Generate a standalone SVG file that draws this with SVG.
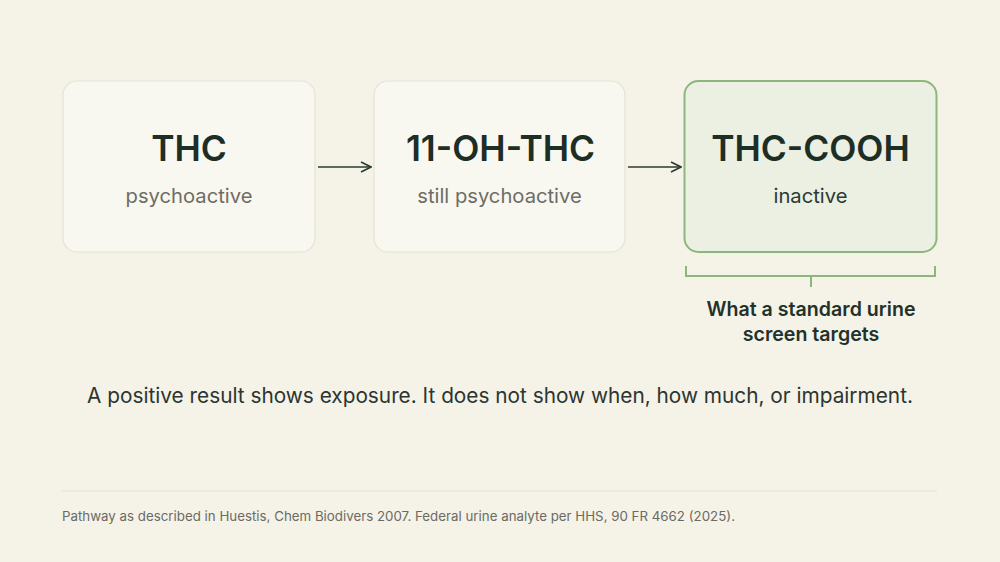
<svg xmlns="http://www.w3.org/2000/svg" width="1000" height="562" viewBox="0 0 1000 562">
<defs>
<style>
.box{fill:#f9f8f0;stroke:#e6e2d5;stroke-width:1.2}
.hl{fill:#ecf0e2;stroke:#8db67c;stroke-width:2}
.t{font-family:Inter,"Liberation Sans",sans-serif;font-weight:600;font-size:35.3px;fill:#1d2e26;text-anchor:middle}
.s{font-family:Inter,"Liberation Sans",sans-serif;font-size:20.2px;fill:#6d6d66;text-anchor:middle}
.sd{fill:#2b3a32}
.conn{stroke:#2b3a32;stroke-width:1.6;fill:none}
.br{stroke:#8db67c;stroke-width:2;fill:none}
</style>
<marker id="arr" viewBox="0 0 12 12" refX="11" refY="6" markerWidth="12" markerHeight="12" markerUnits="userSpaceOnUse" orient="auto">
<path d="M1,1 L11,6 L1,11" fill="none" stroke="#2b3a32" stroke-width="1.6"/>
</marker>
</defs>
<rect width="1000" height="562" fill="#f5f2e8"/>
<g id="node-thc">
<rect class="box" x="63" y="81" width="252" height="171" rx="14"/>
<text class="t" x="189" y="161">THC</text>
<text class="s" x="189" y="203">psychoactive</text>
</g>
<g id="node-11oh">
<rect class="box" x="374" y="81" width="251" height="171" rx="14"/>
<text class="t" x="500.5" y="161">11-OH-THC</text>
<text class="s" x="499.5" y="203">still psychoactive</text>
</g>
<g id="node-cooh">
<rect class="hl" x="684.5" y="81" width="252" height="171" rx="14"/>
<text class="t" x="810.5" y="161">THC-COOH</text>
<text class="s sd" x="810.5" y="203">inactive</text>
</g>
<g id="connectors">
<line class="conn" x1="318" y1="167" x2="371" y2="167" marker-end="url(#arr)"/>
<line class="conn" x1="628" y1="167" x2="681" y2="167" marker-end="url(#arr)"/>
</g>
<g id="bracket">
<path class="br" d="M686,266 V276 H935 V266 M811,276 V287"/>
<text font-family="Inter,'Liberation Sans',sans-serif" font-weight="600" font-size="19.6" fill="#233229" text-anchor="middle"><tspan x="811" y="316">What a standard urine</tspan><tspan x="811" y="341">screen targets</tspan></text>
</g>
<text x="500" y="403" font-family="Inter,'Liberation Sans',sans-serif" font-size="20.8" fill="#2c3530" text-anchor="middle">A positive result shows exposure. It does not show when, how much, or impairment.</text>
<line x1="62" y1="491" x2="937" y2="491" stroke="#e3dfd2" stroke-width="1.2"/>
<text x="62" y="521" font-family="Inter,'Liberation Sans',sans-serif" font-size="13" fill="#6b6b64" textLength="673" lengthAdjust="spacingAndGlyphs">Pathway as described in Huestis, Chem Biodivers 2007. Federal urine analyte per HHS, 90 FR 4662 (2025).</text>
</svg>
